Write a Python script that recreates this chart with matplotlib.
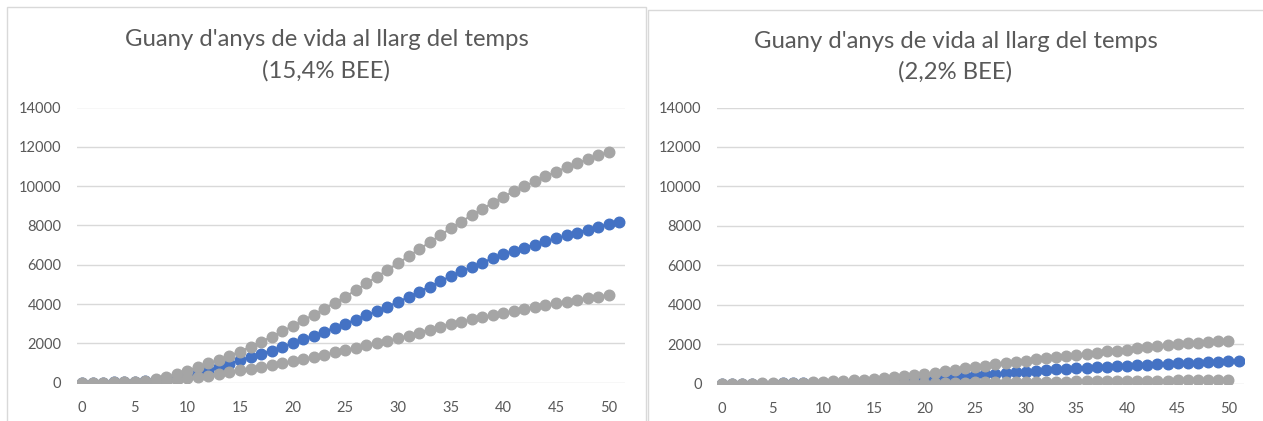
import matplotlib
matplotlib.use("Agg")
import matplotlib.pyplot as plt
from matplotlib.patches import Rectangle

W, H, DPI = 1263, 421, 100

# Anys (categories 0..51)
years_gray = list(range(51))
years_blue = list(range(52))

# Panell esquerre: 15,4% BEE
left_upper = [0, 5, 10, 20, 35, 60, 110, 180, 290, 450,
              620, 800, 980, 1170, 1370, 1580, 1830, 2080, 2340, 2610,
              2880, 3170, 3460, 3760, 4060, 4370, 4710, 5050, 5390, 5730,
              6070, 6430, 6790, 7140, 7500, 7850, 8190, 8520, 8840, 9150,
              9460, 9730, 9990, 10240, 10490, 10730, 10950, 11160, 11360, 11560,
              11750]
left_mid = [0, 5, 10, 20, 30, 50, 80, 120, 180, 260,
            360, 490, 640, 800, 970, 1150, 1300, 1460, 1630, 1810,
            2000, 2200, 2400, 2600, 2800, 3000, 3210, 3420, 3640, 3870,
            4100, 4360, 4620, 4890, 5150, 5420, 5660, 5890, 6110, 6330,
            6540, 6710, 6870, 7030, 7190, 7340, 7490, 7640, 7790, 7930,
            8070, 8190]
left_lower = [0, 0, 5, 10, 15, 25, 40, 60, 100, 150,
              220, 280, 340, 430, 530, 640, 720, 810, 900, 1000,
              1100, 1210, 1320, 1430, 1540, 1660, 1780, 1900, 2010, 2130,
              2250, 2400, 2550, 2700, 2850, 3000, 3110, 3220, 3320, 3430,
              3530, 3630, 3730, 3830, 3930, 4030, 4120, 4200, 4290, 4380,
              4460]

# Panell dret: 2,2% BEE
right_upper = [0, 5, 10, 15, 20, 30, 40, 50, 65, 80,
               100, 120, 140, 170, 200, 240, 280, 330, 380, 440,
               500, 570, 640, 710, 780, 840, 910, 980, 1050, 1120,
               1180, 1240, 1300, 1360, 1410, 1460, 1520, 1580, 1640, 1680,
               1730, 1790, 1850, 1910, 1970, 2010, 2050, 2090, 2120, 2150,
               2170]
right_mid = [0, 2, 4, 6, 8, 12, 16, 20, 26, 32,
             40, 48, 56, 66, 78, 90, 105, 125, 150, 180,
             220, 260, 300, 340, 390, 440, 480, 520, 560, 590,
             620, 660, 690, 730, 760, 790, 820, 840, 870, 900,
             920, 940, 960, 980, 1010, 1030, 1050, 1070, 1090, 1110,
             1130, 1160]
right_lower = [0, 0, 1, 2, 3, 4, 5, 7, 9, 11,
               13, 15, 18, 21, 24, 27, 30, 34, 38, 42,
               46, 50, 55, 60, 65, 70, 75, 80, 85, 90,
               95, 100, 105, 110, 115, 120, 125, 130, 135, 140,
               145, 150, 155, 160, 165, 170, 176, 182, 188, 194,
               200]

titles = ["Guany d'anys de vida al llarg del temps", "Guany d'anys de vida al llarg del temps"]
subtitles = ["(15,4% BEE)", "(2,2% BEE)"]

BLUE = "#4472C4"
GRAY = "#A5A5A5"
GRID = "#D9D9D9"
TEXT = "#595959"

plt.rcParams["font.family"] = ["Lato", "DejaVu Sans"]

fig = plt.figure(figsize=(W / DPI, H / DPI), dpi=DPI)
fig.patch.set_facecolor("white")


def px_box(x0, y0, x1, y1):
    # pixel box (top-left origin) -> figure fraction [l, b, w, h]
    return [x0 / W, 1 - y1 / H, (x1 - x0) / W, (y1 - y0) / H]


panels = [
    dict(frame=(7, 7, 646, 440), axes=(76.7, 107.5, 624.5, 382.7),
         t1=39, t2=71, upper=left_upper, mid=left_mid, lower=left_lower),
    dict(frame=(648, 10, 1270, 440), axes=(716.8, 107.5, 1243.6, 383.8),
         t1=41, t2=72, upper=right_upper, mid=right_mid, lower=right_lower),
]

for i, p in enumerate(panels):
    fx0, fy0, fx1, fy1 = p["frame"]
    fig.patches.append(Rectangle((fx0 / W, 1 - fy1 / H), (fx1 - fx0) / W, (fy1 - fy0) / H,
                                 transform=fig.transFigure, facecolor="white",
                                 edgecolor=GRID, lw=1.0, zorder=0))
    cx = (fx0 + min(fx1, W)) / 2 / W
    fig.text(cx, 1 - p["t1"] / H, titles[i], ha="center", va="center",
             fontsize=17.2, color=TEXT)
    fig.text(cx, 1 - p["t2"] / H, subtitles[i], ha="center", va="center",
             fontsize=17.2, color=TEXT)

    ax = fig.add_axes(px_box(*p["axes"]))
    ax.set_zorder(2)
    ax.set_facecolor("none")
    ax.plot(years_blue, p["mid"], "o-", color=BLUE, ms=7.6, lw=1.5, zorder=3)
    ax.plot(years_gray, p["upper"], "o-", color=GRAY, ms=7.6, lw=1.5, zorder=4)
    ax.plot(years_gray, p["lower"], "o-", color=GRAY, ms=7.6, lw=1.5, zorder=4)

    ax.set_xlim(-0.5, 51.5)
    ax.set_ylim(0, 14000)
    ax.set_xticks(range(0, 51, 5))
    ax.set_yticks(range(0, 14001, 2000))
    ax.grid(axis="y", color=GRID, lw=1.0)
    ax.set_axisbelow(True)
    for s in ax.spines.values():
        s.set_visible(False)
    ax.tick_params(length=0, labelsize=10.5, colors=TEXT)
    ax.tick_params(axis="x", pad=13)
    ax.tick_params(axis="y", pad=11)

fig.savefig("out.png", dpi=DPI, facecolor="white")
